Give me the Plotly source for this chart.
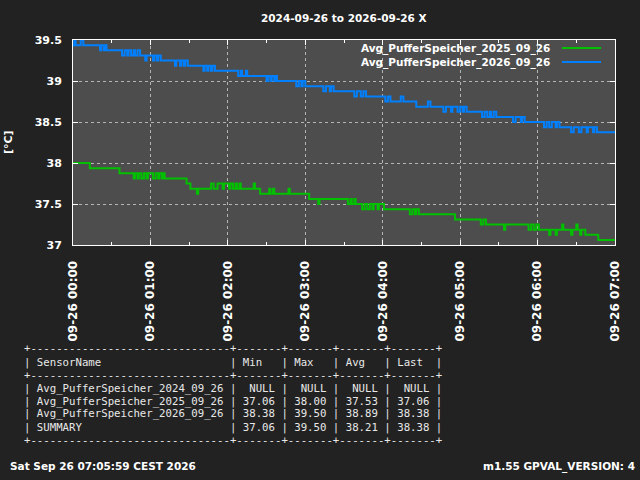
import pandas as pd
import plotly.graph_objects as go

# ---------------- data (minutes after 2026-09-26 00:00, value in °C) ----------------
series_names = ["Avg_PufferSpeicher_2025_09_26", "Avg_PufferSpeicher_2026_09_26"]
series_colors = ["#00c000", "#0080ff"]

t_2025 = [0, 13, 36, 47, 48, 50, 51, 53, 55, 57,
          58, 62, 64, 66, 67, 69, 70, 71, 88, 91,
          96, 97, 107, 109, 112, 116, 117, 121, 122, 124,
          126, 127, 129, 130, 140, 141, 145, 152, 153, 155,
          156, 167, 168, 183, 190, 191, 213, 215, 216, 218,
          219, 224, 226, 228, 230, 232, 233, 236, 237, 241,
          261, 263, 265, 266, 268, 296, 316, 318, 320, 334,
          335, 353, 355, 357, 359, 361, 369, 370, 374, 375,
          379, 380, 386, 387, 390, 391, 393, 394, 397, 407,
          420]
v_2025 = [38.0, 37.9375, 37.875, 37.8125, 37.875, 37.8125, 37.875, 37.8125, 37.875, 37.8125,
          37.875, 37.8125, 37.875, 37.8125, 37.875, 37.8125, 37.875, 37.8125, 37.75, 37.6875,
          37.625, 37.6875, 37.75, 37.6875, 37.75, 37.6875, 37.75, 37.6875, 37.75, 37.6875,
          37.75, 37.6875, 37.75, 37.6875, 37.75, 37.6875, 37.625, 37.6875, 37.625, 37.6875,
          37.625, 37.6875, 37.625, 37.5625, 37.5, 37.5625, 37.5, 37.5625, 37.5, 37.5625,
          37.5, 37.4375, 37.5, 37.4375, 37.5, 37.4375, 37.5, 37.4375, 37.5, 37.4375,
          37.375, 37.4375, 37.375, 37.4375, 37.375, 37.3125, 37.25, 37.3125, 37.25, 37.1875,
          37.25, 37.1875, 37.25, 37.1875, 37.25, 37.1875, 37.125, 37.1875, 37.125, 37.1875,
          37.25, 37.1875, 37.125, 37.1875, 37.25, 37.1875, 37.125, 37.1875, 37.125, 37.0625,
          37.0625]

t_2026 = [0, 1, 2, 6, 8, 21, 22, 24, 25, 26,
          38, 40, 42, 43, 45, 47, 48, 50, 52, 56,
          57, 62, 63, 65, 66, 68, 79, 80, 83, 84,
          86, 87, 89, 101, 102, 104, 105, 107, 108, 110,
          128, 130, 131, 134, 135, 150, 151, 153, 154, 156,
          157, 158, 173, 175, 177, 178, 180, 194, 196, 199,
          200, 202, 218, 220, 223, 225, 227, 242, 244, 246,
          254, 256, 266, 275, 277, 287, 289, 293, 294, 298,
          300, 302, 303, 305, 317, 319, 321, 323, 324, 326,
          328, 341, 343, 347, 348, 350, 365, 367, 369, 371,
          374, 375, 377, 386, 388, 392, 394, 398, 399, 403,
          404, 406, 420]
v_2026 = [39.4375, 39.5, 39.4375, 39.5, 39.4375, 39.375, 39.4375, 39.375, 39.4375, 39.375,
          39.3125, 39.375, 39.3125, 39.375, 39.3125, 39.375, 39.3125, 39.375, 39.3125, 39.25,
          39.3125, 39.25, 39.3125, 39.25, 39.3125, 39.25, 39.1875, 39.25, 39.1875, 39.25,
          39.1875, 39.25, 39.1875, 39.125, 39.1875, 39.125, 39.1875, 39.125, 39.1875, 39.125,
          39.0625, 39.125, 39.0625, 39.125, 39.0625, 39.0, 39.0625, 39.0, 39.0625, 39.0,
          39.0625, 39.0, 38.9375, 39.0, 38.9375, 39.0, 38.9375, 38.875, 38.9375, 38.875,
          38.9375, 38.875, 38.8125, 38.875, 38.8125, 38.875, 38.8125, 38.75, 38.8125, 38.75,
          38.8125, 38.75, 38.6875, 38.75, 38.6875, 38.625, 38.6875, 38.625, 38.6875, 38.625,
          38.6875, 38.625, 38.6875, 38.625, 38.5625, 38.625, 38.5625, 38.625, 38.5625, 38.625,
          38.5625, 38.5, 38.5625, 38.5, 38.5625, 38.5, 38.4375, 38.5, 38.4375, 38.5,
          38.4375, 38.5, 38.4375, 38.375, 38.4375, 38.375, 38.4375, 38.375, 38.4375, 38.375,
          38.4375, 38.375, 38.375]

y_ticks = [37, 37.5, 38, 38.5, 39, 39.5]
x_tick_hours = [0, 1, 2, 3, 4, 5, 6, 7]

title_text = "2024-09-26 to 2026-09-26 X"
y_title = "[°C]"

table_names = ["Avg_PufferSpeicher_2024_09_26", "Avg_PufferSpeicher_2025_09_26",
               "Avg_PufferSpeicher_2026_09_26", "SUMMARY"]
table_min = ["NULL", "37.06", "38.38", "37.06"]
table_max = ["NULL", "38.00", "39.50", "39.50"]
table_avg = ["NULL", "37.53", "38.89", "38.21"]
table_last = ["NULL", "37.06", "38.38", "38.38"]

footer_left = "Sat Sep 26 07:05:59 CEST 2026"
footer_right = "m1.55 GPVAL_VERSION: 4"

# ---------------- figure ----------------
base = pd.Timestamp("2026-09-26 00:00")
def to_time(mins):
    return base + pd.to_timedelta(mins, unit="min")

fig = go.Figure()
for name, col, t, v in [(series_names[0], series_colors[0], t_2025, v_2025),
                        (series_names[1], series_colors[1], t_2026, v_2026)]:
    fig.add_trace(go.Scatter(x=to_time(t), y=v, mode="lines", name=name,
                             line=dict(color=col, width=2, shape="hv")))

W, H = 640, 480
L, R, T, B = 73, 25, 40, 235
pw, ph = W - L - R, H - T - B

def px(x):
    return (x - L) / pw

def py(y):
    return (H - B - y) / ph

fig.update_layout(
    width=W, height=H, margin=dict(l=L, r=R, t=T, b=B),
    paper_bgcolor="#222222", plot_bgcolor="#4d4d4d",
    showlegend=False,
    font=dict(family="DejaVu Sans", color="white", size=11),
)

fig.update_xaxes(
    type="date",
    range=[to_time(0), to_time(420)],
    tickvals=[to_time(h * 60) for h in x_tick_hours],
    tickformat="%m-%d %H:%M",
    tickangle=-90,
    tickfont=dict(family="DejaVu Sans", size=12, color="white", weight="bold"),
    ticks="inside", ticklen=5, tickcolor="white", tickwidth=1,
    showline=True, linecolor="white", linewidth=1, mirror="ticks",
    showgrid=True, gridcolor="#b4b4b4", griddash="dot", gridwidth=1,
    zeroline=False, ticklabelstandoff=10,
    minor=dict(dtick=30 * 60 * 1000, ticks="inside", ticklen=3, tickcolor="white", showgrid=False),
)
fig.update_yaxes(
    range=[37, 39.5],
    tickvals=y_ticks,
    tickfont=dict(family="DejaVu Sans", size=11, color="white", weight="bold"),
    ticks="inside", ticklen=5, tickcolor="white", tickwidth=1,
    showline=True, linecolor="white", linewidth=1, mirror="ticks",
    showgrid=True, gridcolor="#b4b4b4", griddash="dot", gridwidth=1,
    zeroline=False, ticklabelstandoff=8,
)

TXT = 10.5
ann = []
# title
ann.append(dict(text=title_text, xref="paper", yref="paper", x=0.5, y=py(18),
                xanchor="center", yanchor="middle", showarrow=False,
                font=dict(size=TXT, color="white", weight="bold")))
# y title
ann.append(dict(text=y_title, xref="paper", yref="paper", x=px(8), y=py(142),
                xanchor="center", yanchor="middle", showarrow=False, textangle=-90,
                font=dict(size=11, color="white", weight="bold")))
# legend (text right, sample on the right)
shapes = []
for i, (name, col) in enumerate(zip(series_names, series_colors)):
    yy = 48 + 14 * i
    ann.append(dict(text=name, xref="paper", yref="paper", x=px(552), y=py(yy),
                    xanchor="right", yanchor="middle", showarrow=False,
                    font=dict(size=TXT, color="white", weight="bold")))
    shapes.append(dict(type="line", xref="paper", yref="paper",
                       x0=px(562), x1=px(601), y0=py(yy), y1=py(yy),
                       line=dict(color=col, width=2)))

# table
sep = "+" + "-" * 31 + ("+" + "-" * 7) * 4 + "+"
rows = [sep,
        "| " + "SensorName".ljust(29) + " | Min   | Max   | Avg   | Last  |",
        sep]
for n, a, b, c, d in zip(table_names, table_min, table_max, table_avg, table_last):
    rows.append("| " + n.ljust(29) + " | " + " | ".join(s.rjust(5) for s in (a, b, c, d)) + " |")
rows.append(sep)
row_y = [348, 362, 375, 388, 401, 414, 427, 440]
for r, yy in zip(rows, row_y):
    ann.append(dict(text=r.replace(" ", "&nbsp;"), xref="paper", yref="paper", x=px(22), y=py(yy),
                    xanchor="left", yanchor="middle", showarrow=False,
                    font=dict(family="DejaVu Sans Mono", size=10.7, color="#e8e8e8")))

# footer
ann.append(dict(text=footer_left, xref="paper", yref="paper", x=px(8), y=py(466),
                xanchor="left", yanchor="middle", showarrow=False,
                font=dict(size=TXT, color="white", weight="bold")))
ann.append(dict(text=footer_right, xref="paper", yref="paper", x=px(637), y=py(466),
                xanchor="right", yanchor="middle", showarrow=False,
                font=dict(size=TXT, color="white", weight="bold")))

fig.update_layout(annotations=ann, shapes=shapes)
fig.write_html("out.html", config={"displayModeBar": False},
               post_script="document.body.style.margin='0';document.body.style.background='#222222';")
